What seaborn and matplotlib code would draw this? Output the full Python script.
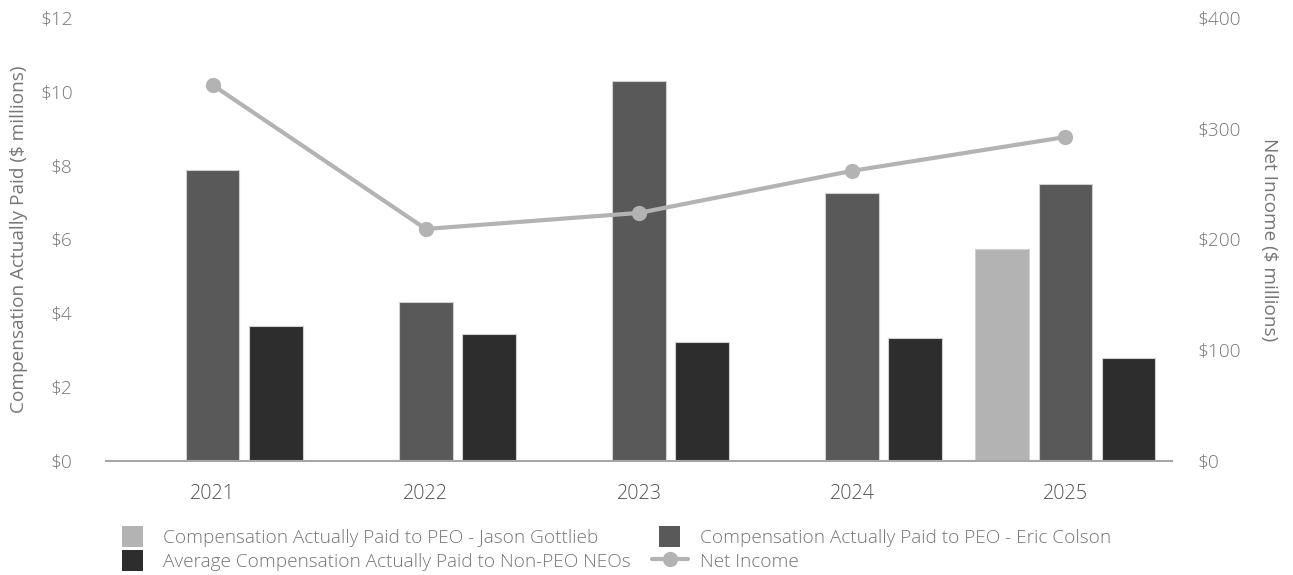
import matplotlib
matplotlib.use("Agg")
import matplotlib.pyplot as plt
from matplotlib.lines import Line2D
from matplotlib.patches import Patch, Rectangle
from matplotlib.legend_handler import HandlerPatch
import seaborn as sns
import pandas as pd

years = ["2021", "2022", "2023", "2024", "2025"]
cap_gottlieb = [None, None, None, None, 5.75]
cap_colson = [7.88, 4.31, 10.30, 7.26, 7.51]
cap_non_peo = [3.66, 3.44, 3.22, 3.33, 2.79]
net_income = [339.5, 209.5, 224.0, 262.0, 292.5]

lbl_gottlieb = "Compensation Actually Paid to PEO - Jason Gottlieb"
lbl_colson = "Compensation Actually Paid to PEO - Eric Colson"
lbl_non_peo = "Average Compensation Actually Paid to Non-PEO NEOs"
lbl_net = "Net Income"

series = [(lbl_gottlieb, cap_gottlieb), (lbl_colson, cap_colson), (lbl_non_peo, cap_non_peo)]
rows = []
for name, vals in series:
    for yr, v in zip(years, vals):
        if v is not None:
            rows.append({"Year": yr, "Series": name, "Value": v})
bars_df = pd.DataFrame(rows)
line_df = pd.DataFrame({"Year": years, "Net Income": net_income})

colors = {lbl_gottlieb: "#b3b3b3", lbl_colson: "#595959", lbl_non_peo: "#2d2d2d"}
line_color = "#b3b3b3"
text_color = "#767676"
fs = 13.7

sns.set_theme(style="white")
plt.rcParams["font.family"] = ["Open Sans", "DejaVu Sans"]
plt.rcParams["font.weight"] = "light"

fig = plt.figure(figsize=(12.93, 5.75), dpi=100)
ax = fig.add_axes([0.082, 0.1983, 0.8244, 0.7704])

sns.barplot(data=bars_df, x="Year", y="Value", hue="Series", order=years,
            hue_order=[lbl_gottlieb, lbl_colson, lbl_non_peo], palette=colors,
            width=0.888, gap=0.15, edgecolor="#d0d0d0", linewidth=0.8,
            legend=False, ax=ax)

ax.set_xlim(-0.5, 4.5)
ax.set_ylim(0, 12)
ax.set_yticks(range(0, 13, 2))
ax.set_yticklabels([f"${v}" for v in range(0, 13, 2)])
ax.set_xlabel("")
ax.set_ylabel("Compensation Actually Paid ($ millions)", color=text_color, fontsize=fs)
ax.yaxis.set_label_coords(-0.073, 0.5)
for s in ["top", "right", "left"]:
    ax.spines[s].set_visible(False)
ax.spines["bottom"].set_color("#a6a6a6")
ax.spines["bottom"].set_linewidth(1.5)
ax.tick_params(axis="y", length=0, pad=24, labelsize=fs, labelcolor=text_color)
ax.tick_params(axis="x", length=0, pad=16.5, labelsize=14.2, labelcolor="#555555")

ax2 = ax.twinx()
sns.lineplot(data=line_df, x="Year", y="Net Income", color=line_color,
             linewidth=3, marker="o", markersize=11, markeredgewidth=0,
             ax=ax2, sort=False)
ax2.set_ylim(0, 400)
ax2.set_xlim(-0.5, 4.5)
ax2.set_yticks(range(0, 401, 100))
ax2.set_yticklabels([f"${v}" for v in range(0, 401, 100)])
ax2.set_ylabel("Net Income ($ millions)", color=text_color, fontsize=fs, rotation=270,
               va="center")
ax2.yaxis.set_label_coords(1.0906, 0.5)
for s in ["top", "right", "left", "bottom"]:
    ax2.spines[s].set_visible(False)
ax2.tick_params(axis="y", length=0, pad=18, labelsize=fs, labelcolor=text_color)
ax2.set_xlabel("")


def square_patch(legend, orig_handle, xdescent, ydescent, width, height, fontsize):
    side = 1.1 * fontsize
    return Rectangle((-xdescent + (width - side) / 2, -ydescent + (height - side) / 2),
                     side, side)


handles = [
    Patch(facecolor=colors[lbl_gottlieb], edgecolor="none", label=lbl_gottlieb),
    Patch(facecolor=colors[lbl_non_peo], edgecolor="none", label=lbl_non_peo),
    Patch(facecolor=colors[lbl_colson], edgecolor="none", label=lbl_colson),
    Line2D([0], [0], color=line_color, linewidth=3, marker="o", markersize=11,
           markeredgewidth=0, label=lbl_net),
]
leg = fig.legend(handles=handles, ncol=2, loc="center left",
                 bbox_to_anchor=(0.075, 0.045), frameon=False, fontsize=fs,
                 handlelength=1.9, handleheight=1.1, handletextpad=0.65,
                 labelspacing=0.25, columnspacing=1.13, labelcolor=text_color,
                 handler_map={Patch: HandlerPatch(patch_func=square_patch)})

fig.savefig("out.png", dpi=100)
